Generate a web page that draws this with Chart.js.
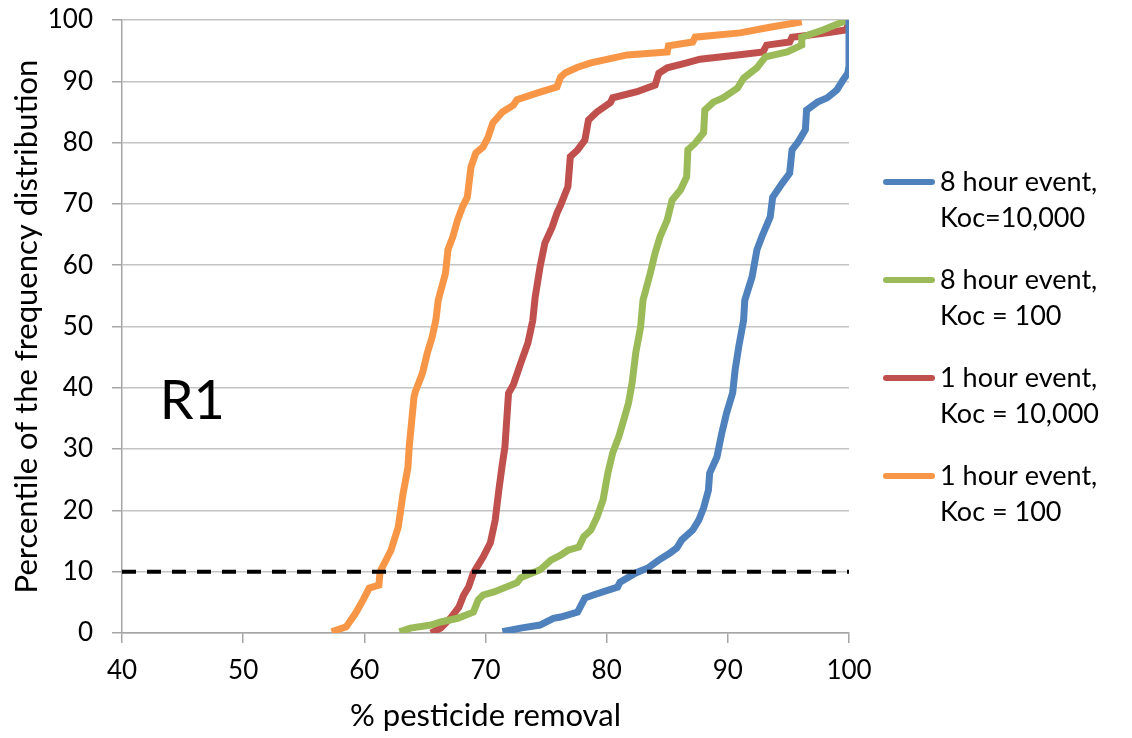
<!DOCTYPE html>
<html>
<head>
<meta charset="utf-8">
<script src="https://cdn.jsdelivr.net/npm/chart.js@4"></script>
<style>
  body { margin: 0; background: #fff; }
  #wrap { width: 1132px; height: 738px; }
</style>
</head>
<body>
<div id="wrap"><canvas id="chart"></canvas></div>
<script>
// series labels (two lines each, like the legend in the picture)
var seriesLabels = [
    ["8 hour event,", "Koc=10,000"],
    ["8 hour event,", "Koc = 100"],
    ["1 hour event,", "Koc = 10,000"],
    ["1 hour event,", "Koc = 100"]
];
var seriesColors = ["#4f81bd", "#9bbb59", "#c0504d", "#f79646"];

// 8 hour event, Koc=10,000 (blue)
var blueX = [71.4, 72.9, 74.5, 75.6, 76.2, 77.6, 78.2, 78.9, 80.9, 81.1, 82.4, 83.4, 84.3, 85.2, 85.8, 86.2, 87.1, 87.6, 88.0, 88.4, 88.5, 89.1, 89.5, 89.9, 90.4, 90.6, 90.9, 91.3, 91.4, 92.0, 92.4, 92.8, 93.5, 93.7, 94.5, 95.1, 95.3, 95.8, 96.4, 96.5, 97.4, 98.2, 99.0, 99.5, 99.9, 100, 100];
var blueY = [0.2, 0.8, 1.3, 2.4, 2.6, 3.4, 5.7, 6.2, 7.5, 8.3, 9.8, 10.6, 11.9, 13.0, 13.9, 15.2, 16.8, 18.4, 20.4, 23.3, 26.1, 28.7, 32.6, 35.9, 39.2, 42.9, 46.7, 51.0, 54.3, 58.1, 62.5, 64.6, 67.9, 71.1, 73.4, 75.0, 78.8, 80.1, 82.1, 85.3, 86.6, 87.3, 88.6, 90.2, 91.3, 92.5, 100];

// 8 hour event, Koc = 100 (green)
var greenX = [62.9, 63.8, 65.5, 66.3, 67.7, 69.0, 69.4, 69.8, 70.7, 72.6, 72.9, 74.5, 75.4, 76.2, 76.8, 77.7, 78.1, 78.7, 79.2, 79.7, 80.1, 80.5, 81.0, 81.4, 81.8, 82.1, 82.4, 82.8, 83.0, 83.6, 84.0, 84.4, 85.0, 85.4, 86.1, 86.6, 86.7, 87.3, 88.0, 88.1, 88.8, 89.6, 90.8, 91.3, 92.4, 93.1, 94.9, 96.1, 96.1, 97.9, 99.5, 100];
var greenY = [0.2, 0.8, 1.3, 1.8, 2.4, 3.4, 5.4, 6.2, 6.7, 8.2, 9.0, 10.3, 11.9, 12.7, 13.5, 14.0, 15.7, 16.8, 18.9, 21.7, 26.1, 29.4, 32.0, 34.7, 37.5, 40.8, 45.7, 49.9, 54.3, 58.7, 62.0, 64.6, 67.4, 70.6, 72.3, 74.4, 78.8, 79.9, 81.6, 85.3, 86.6, 87.3, 88.9, 90.5, 92.2, 94.0, 94.8, 95.9, 97.2, 98.4, 99.7, 100];

// 1 hour event, Koc = 10,000 (red)
var redX = [65.5, 66.3, 67.1, 67.8, 68.2, 68.6, 69.0, 69.8, 70.4, 70.8, 71.1, 71.4, 71.6, 71.9, 72.3, 72.9, 73.5, 73.9, 74.1, 74.5, 74.9, 75.5, 75.9, 76.2, 76.8, 77.0, 77.6, 78.2, 78.5, 79.2, 80.3, 80.5, 82.5, 84.0, 84.3, 85.0, 86.6, 87.7, 90.8, 92.9, 93.2, 95.1, 95.3, 98.2, 99.8, 100];
var redY = [0.0, 0.8, 2.4, 4.2, 6.2, 7.5, 9.8, 12.4, 14.7, 18.4, 23.3, 27.7, 30.3, 39.1, 40.5, 44.0, 47.3, 51.0, 54.8, 59.7, 63.6, 66.2, 68.5, 69.8, 72.8, 77.7, 78.8, 80.4, 83.7, 85.0, 86.5, 87.3, 88.3, 89.4, 91.3, 92.2, 93.0, 93.6, 94.3, 94.8, 95.9, 96.4, 97.2, 97.9, 98.4, 100];

// 1 hour event, Koc = 100 (orange)
var orangeX = [57.3, 58.5, 59.3, 59.9, 60.4, 61.2, 61.3, 62.2, 62.8, 63.2, 63.6, 63.7, 64.1, 64.2, 64.8, 65.2, 65.6, 65.9, 66.1, 66.7, 66.9, 67.3, 67.7, 68.1, 68.5, 68.8, 69.2, 69.8, 70.2, 70.6, 71.4, 72.3, 72.6, 74.3, 75.9, 76.2, 76.6, 77.6, 78.7, 81.7, 85.0, 85.1, 87.1, 87.3, 91.0, 93.7, 96.1];
var orangeY = [0.2, 1.0, 3.3, 5.4, 7.3, 7.8, 10.0, 13.5, 17.3, 22.8, 27.0, 30.3, 38.5, 39.3, 42.4, 45.7, 48.3, 51.0, 54.3, 58.7, 62.5, 64.6, 67.4, 69.5, 71.1, 76.0, 78.3, 79.3, 80.8, 83.2, 85.0, 86.1, 87.0, 88.1, 89.1, 90.7, 91.4, 92.3, 93.0, 94.3, 94.8, 95.8, 96.4, 97.2, 97.9, 98.9, 99.7];

// 10th percentile reference line
var refX = [40, 100];
var refY = [10, 10];

var xTicks = [40, 50, 60, 70, 80, 90, 100];
var panelLabel = "R1";

var FONT = "Lato, 'Liberation Sans', sans-serif";

function toPoints(xs, ys) {
    var pts = [];
    for (var i = 0; i < xs.length; i++) {
        pts.push({x: xs[i], y: ys[i]});
    }
    return pts;
}

var seriesData = [toPoints(blueX, blueY), toPoints(greenX, greenY), toPoints(redX, redY), toPoints(orangeX, orangeY)];

var datasets = [];
// dashed line first so the curves sit on top of it
datasets.push({
    label: "10th percentile",
    data: toPoints(refX, refY),
    borderColor: "#000000",
    borderWidth: 4,
    borderDash: [14, 11],
    pointRadius: 0,
    fill: false,
    isRef: true
});
for (var i = 0; i < seriesData.length; i++) {
    datasets.push({
        label: seriesLabels[i].join(" "),
        lines: seriesLabels[i],
        data: seriesData[i],
        borderColor: seriesColors[i],
        backgroundColor: seriesColors[i],
        borderWidth: 7,
        pointRadius: 0,
        tension: 0,
        fill: false
    });
}

// legend on the right, drawn by hand because of the two-line labels
var sideLegend = {
    id: 'sideLegend',
    afterDraw: function(chart) {
        var ctx = chart.ctx;
        var ds = chart.data.datasets.filter(function(d) { return !d.isRef; });
        ctx.save();
        ctx.font = "27px " + FONT;
        ctx.fillStyle = "#000";
        ctx.textBaseline = "middle";
        ctx.lineCap = "round";
        for (var k = 0; k < ds.length; k++) {
            var y0 = 182 + k * 98;
            ctx.strokeStyle = ds[k].borderColor;
            ctx.lineWidth = 6;
            ctx.beginPath();
            ctx.moveTo(886, y0);
            ctx.lineTo(932, y0);
            ctx.stroke();
            ctx.fillText(ds[k].lines[0], 940, y0);
            ctx.fillText(ds[k].lines[1], 940, y0 + 36);
        }
        ctx.restore();
    }
};

var panelText = {
    id: 'panelText',
    afterDraw: function(chart) {
        var ctx = chart.ctx;
        var xs = chart.scales.x, ys = chart.scales.y;
        ctx.save();
        ctx.font = "54px " + FONT;
        ctx.fillStyle = "#000";
        ctx.textAlign = "center";
        ctx.textBaseline = "middle";
        ctx.fillText(panelLabel, xs.getPixelForValue(45.8), ys.getPixelForValue(37.8));
        ctx.restore();
    }
};

Chart.defaults.font.family = FONT;
Chart.defaults.color = "#000";

new Chart(document.getElementById("chart"), {
    type: 'line',
    data: { datasets: datasets },
    options: {
        responsive: true,
        maintainAspectRatio: false,
        animation: false,
        layout: { padding: { top: 20, right: 283, bottom: 0, left: 0 } },
        plugins: {
            legend: { display: false },
            tooltip: { enabled: false }
        },
        scales: {
            x: {
                type: 'linear',
                min: 40,
                max: 100,
                afterBuildTicks: function(scale) {
                    scale.ticks = xTicks.map(function(v) { return {value: v}; });
                },
                afterFit: function(scale) { scale.height = 105; },
                grid: {
                    drawOnChartArea: false,
                    drawTicks: true,
                    tickLength: 10,
                    color: "#a6a6a6",
                    lineWidth: 1.5
                },
                border: { color: "#a6a6a6", width: 1.5 },
                ticks: { font: { size: 26 }, padding: 12, maxRotation: 0 },
                title: {
                    display: true,
                    text: "% pesticide removal",
                    font: { size: 31 },
                    padding: { top: 4, bottom: 3 }
                }
            },
            y: {
                min: 0,
                max: 100,
                afterFit: function(scale) {
                    scale.width = 122;
                    scale.paddingTop = 0;
                    scale.paddingBottom = 0;
                },
                ticks: { stepSize: 10, font: { size: 26 }, padding: 19 },
                grid: {
                    color: "#c4c4c4",
                    lineWidth: 1.5,
                    drawTicks: true,
                    tickLength: 10,
                    tickColor: "#a6a6a6"
                },
                border: { color: "#a6a6a6", width: 1.5 },
                title: {
                    display: true,
                    text: "Percentile of the frequency distribution",
                    font: { size: 31 },
                    padding: { top: 8, bottom: 4 }
                }
            }
        }
    },
    plugins: [sideLegend, panelText]
});
</script>
</body>
</html>
